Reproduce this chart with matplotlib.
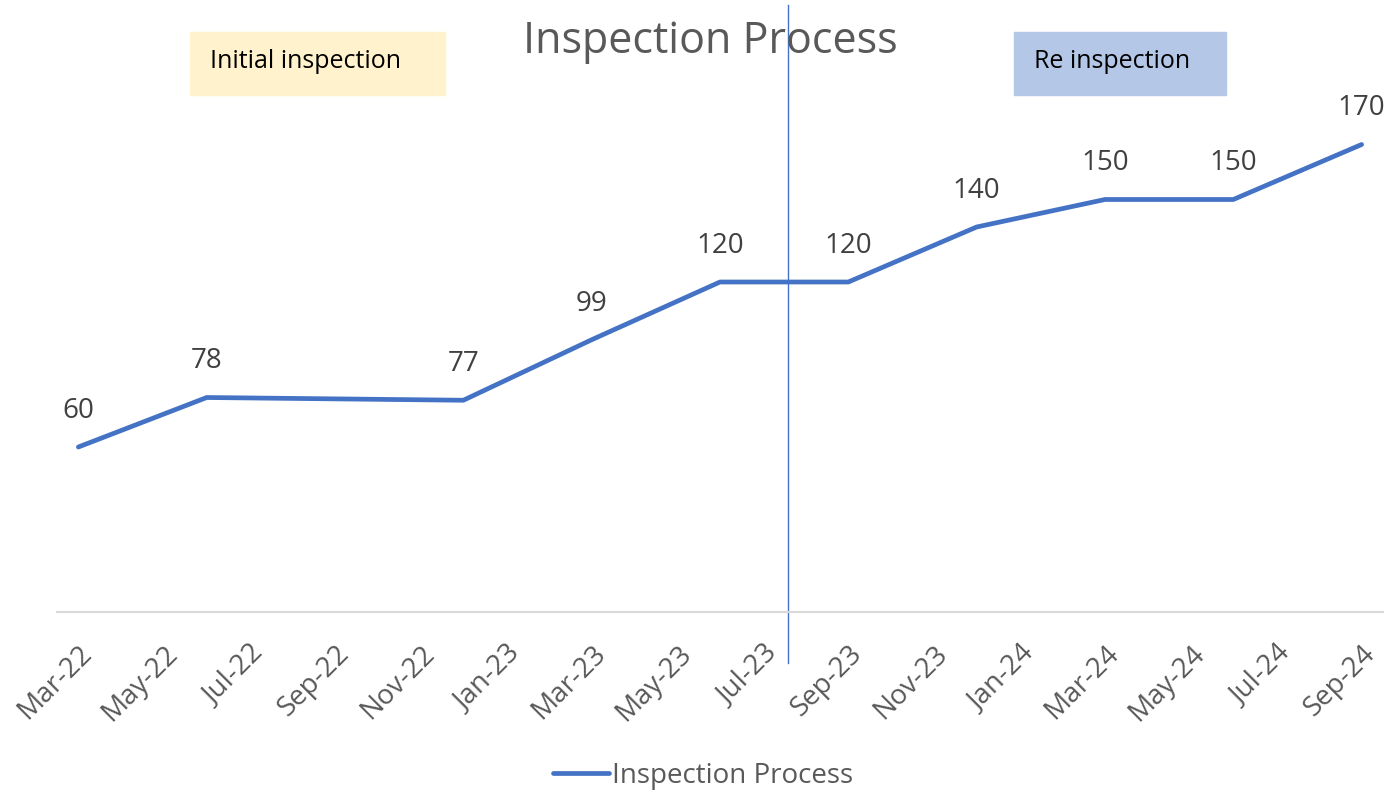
import matplotlib.pyplot as plt
from matplotlib.patches import Rectangle

plt.rcParams['font.family'] = ['Open Sans', 'DejaVu Sans']

# months counted from Mar-22
months = [0, 3, 9, 12, 15, 18, 21, 24, 27, 30]
values = [60, 78, 77, 99, 120, 120, 140, 150, 150, 170]
tick_pos = list(range(0, 31, 2))
tick_labels = ['Mar-22', 'May-22', 'Jul-22', 'Sep-22', 'Nov-22', 'Jan-23', 'Mar-23',
               'May-23', 'Jul-23', 'Sep-23', 'Nov-23', 'Jan-24', 'Mar-24', 'May-24',
               'Jul-24', 'Sep-24']
split_month = 16.6

blue = '#4472C4'
grey = '#595959'
W, H = 1384, 793

fig = plt.figure(figsize=(13.84, 7.93), dpi=100)
ax = fig.add_axes([57 / W, 1 - 612 / H, (1383 - 57) / W, (612 - 62) / H])

ax.plot(months, values, color=blue, lw=3.4, solid_capstyle='round',
        label='Inspection Process', zorder=3)
for m, v in zip(months, values):
    ax.annotate(str(v), (m, v), xytext=(0, 16), textcoords='offset points',
                ha='center', va='bottom', fontsize=20, color='#404040')

ax.set_xlim(-0.5, 30.5)
ax.set_ylim(0, 200)
ax.set_xticks(tick_pos)
ax.set_xticklabels(tick_labels, rotation=45, ha='right', rotation_mode='anchor',
                   fontsize=20, color=grey)
ax.tick_params(axis='x', length=0, pad=20)
ax.set_yticks([])
for s in ['top', 'right', 'left']:
    ax.spines[s].set_visible(False)
ax.spines['bottom'].set_color('#D9D9D9')
ax.spines['bottom'].set_linewidth(1.5)

# divider between the two phases
ax.plot([split_month, split_month], [-18.5, 220.7], color=blue, lw=1, clip_on=False)

fig.text(710 / W, 1 - 42 / H, 'Inspection Process', ha='center', va='center',
         fontsize=31, color=grey)

# phase boxes
fig.patches.append(Rectangle((190 / W, 1 - 95 / H), 255 / W, 63 / H,
                             transform=fig.transFigure, color='#FFF2CC', zorder=0))
fig.patches.append(Rectangle((1014 / W, 1 - 95 / H), 212 / W, 63 / H,
                             transform=fig.transFigure, color='#B4C7E7', zorder=0))
fig.text(210 / W, 1 - 61 / H, 'Initial inspection', ha='left', va='center',
         fontsize=18, color='black')
fig.text(1034 / W, 1 - 61 / H, 'Re inspection', ha='left', va='center',
         fontsize=18, color='black')

ax.legend(loc='center', bbox_to_anchor=(0.508, 0.022), bbox_transform=fig.transFigure,
          frameon=False, fontsize=20, labelcolor=grey, handlelength=2.0,
          handletextpad=0.1)

fig.savefig('out.png', dpi=100)
